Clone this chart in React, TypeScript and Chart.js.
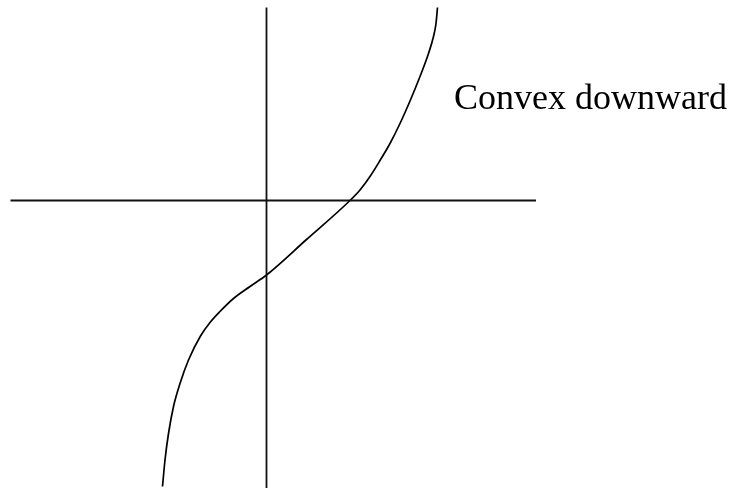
import React, { useEffect, useRef } from "react";
import { Chart, registerables } from "chart.js";

Chart.register(...registerables);

// Curve (math coordinates, origin at axis crossing)
const curveX = [-2.08, -2.03, -1.96, -1.86, -1.73, -1.56, -1.32, -1.13, -0.93, -0.66, -0.33, 0.0, 0.8, 1.67, 1.87, 2.07, 2.27, 2.47, 2.67, 2.87, 3.07, 3.24, 3.34, 3.39, 3.42];
const curveY = [-5.72, -5.19, -4.66, -4.12, -3.66, -3.19, -2.71, -2.44, -2.22, -1.96, -1.72, -1.49, -0.78, 0.0, 0.21, 0.48, 0.8, 1.14, 1.54, 1.99, 2.48, 2.94, 3.28, 3.54, 3.86];

// Axis extents
const xAxisExtent = [-5.12, 5.39];
const yAxisExtent = [-5.8, 3.86];

// Label
const labelText = "Convex downward";
const labelAt = { x: 3.75, y: 1.84 };

const xRange = [-5.33, 9.41];
const yRange = [-5.75, 4.01];

const labelPlugin = {
  id: "labelPlugin",
  afterDatasetsDraw(chart: any) {
    const { ctx, scales } = chart;
    const px = scales.x.getPixelForValue(labelAt.x);
    const py = scales.y.getPixelForValue(labelAt.y);
    ctx.save();
    ctx.fillStyle = "#000";
    ctx.font = '36px "Liberation Serif", "Times New Roman", serif';
    ctx.textAlign = "left";
    ctx.textBaseline = "alphabetic";
    ctx.fillText(labelText, px, py);
    ctx.restore();
  },
};

export default function App() {
  const ref = useRef<HTMLCanvasElement>(null);
  useEffect(() => {
    if (!ref.current) return;
    const curve = curveX.map((x, i) => ({ x, y: curveY[i] }));
    const chart = new Chart(ref.current, {
      type: "scatter",
      data: {
        datasets: [
          {
            data: [{ x: xAxisExtent[0], y: 0 }, { x: xAxisExtent[1], y: 0 }],
            showLine: true,
            borderColor: "#111",
            borderWidth: 1.8,
            pointRadius: 0,
          },
          {
            data: [{ x: 0, y: yAxisExtent[0] }, { x: 0, y: yAxisExtent[1] }],
            showLine: true,
            borderColor: "#111",
            borderWidth: 1.8,
            pointRadius: 0,
          },
          {
            data: curve,
            showLine: true,
            borderColor: "#000",
            borderWidth: 1.7,
            pointRadius: 0,
            cubicInterpolationMode: "monotone",
          },
        ],
      },
      options: {
        animation: false,
        responsive: false,
        events: [],
        layout: { padding: 0 },
        plugins: { legend: { display: false }, tooltip: { enabled: false }, title: { display: false } },
        scales: {
          x: { type: "linear", min: xRange[0], max: xRange[1], display: false },
          y: { type: "linear", min: yRange[0], max: yRange[1], display: false },
        },
      },
      plugins: [labelPlugin],
    });
    return () => chart.destroy();
  }, []);
  return (
    <div style={{ position: "fixed", left: 0, top: 0, width: 737, height: 488, background: "#fff" }}>
      <canvas ref={ref} width={737} height={488} style={{ display: "block" }} />
    </div>
  );
}
